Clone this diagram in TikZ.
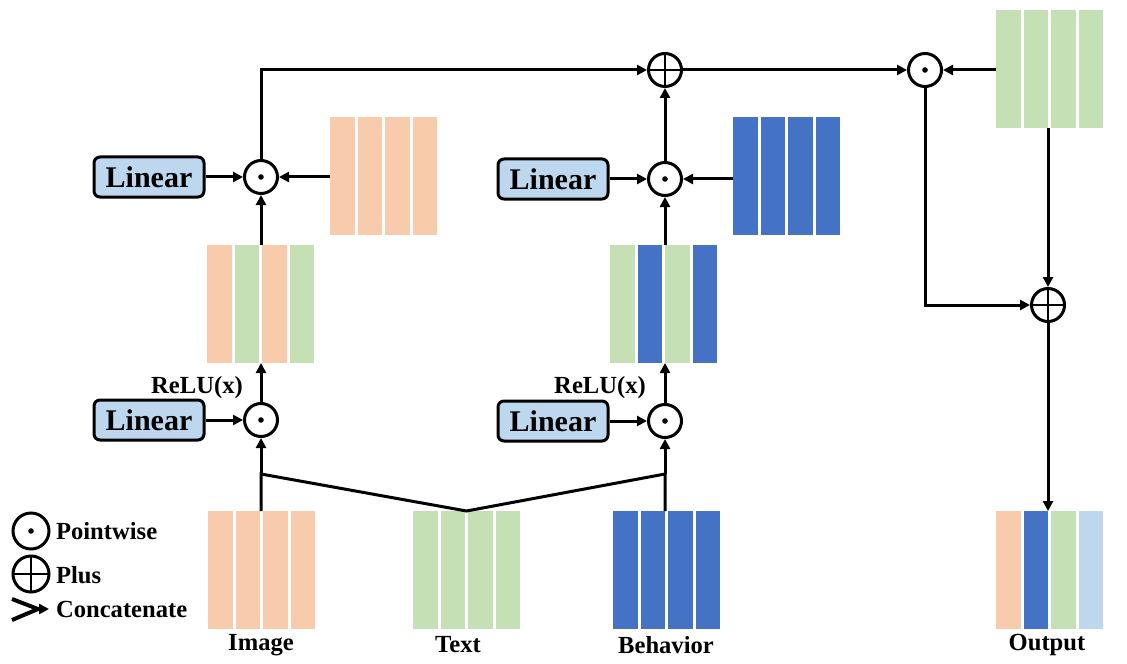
\documentclass[tikz,border=0pt]{standalone}
\usepackage{fontspec}
\setmainfont{Liberation Serif}
\usetikzlibrary{arrows.meta,fit,positioning}
\definecolor{peach}{HTML}{F8CBAD}
\definecolor{sage}{HTML}{C5E0B4}
\definecolor{royal}{HTML}{4472C4}
\definecolor{sky}{HTML}{BDD7EE}
\tikzset{
  bar/.style={fill=#1, minimum width=12.25pt, minimum height=59pt, inner sep=0pt, outer sep=0pt},
  linbox/.style={draw, line width=1.5pt, rounded corners=3pt, fill=sky, minimum width=55pt, minimum height=20pt, inner sep=0pt, font=\fontsize{15}{18}\selectfont\bfseries},
  dotop/.style={draw, circle, line width=1.5pt, minimum size=#1, inner sep=0pt, path picture={\fill (path picture bounding box.center) circle (1.4pt);}},
  dotop/.default=16.5pt,
  plusop/.style={draw, circle, line width=1.5pt, minimum size=#1, inner sep=0pt, path picture={\draw[line width=1.2pt] (path picture bounding box.north) -- (path picture bounding box.south) (path picture bounding box.west) -- (path picture bounding box.east);}},
  plusop/.default=16.5pt,
  lbl/.style={font=\fontsize{12.3}{14}\selectfont\bfseries},
  link/.style={line width=1.5pt, -{Triangle[length=5pt,width=5pt]}},
}
\newcommand{\feat}[6]{%
  \node[bar=#3, anchor=north west] (#1a) at (#2) {};
  \node[bar=#4, right=1.5pt of #1a] (#1b) {};
  \node[bar=#5, right=1.5pt of #1b] (#1c) {};
  \node[bar=#6, right=1.5pt of #1c] (#1d) {};
  \node[fit=(#1a)(#1d), inner sep=0pt, outer sep=0pt] (#1) {};
}
\begin{document}
\begin{tikzpicture}[x=0.5pt,y=-0.5pt]
  \useasboundingbox (0,0) rectangle (1127,663);
  \feat{lp}{330,117}{peach}{peach}{peach}{peach}
  \feat{lm}{207,245}{peach}{sage}{peach}{sage}
  \feat{bp}{733,117}{royal}{royal}{royal}{royal}
  \feat{bm}{610,245}{sage}{royal}{sage}{royal}
  \feat{img}{208,511}{peach}{peach}{peach}{peach}
  \feat{txt}{413,511}{sage}{sage}{sage}{sage}
  \feat{beh}{613,511}{royal}{royal}{royal}{royal}
  \feat{gout}{996,10}{sage}{sage}{sage}{sage}
  \feat{out}{996,511}{peach}{royal}{sage}{sky}
  \node[dotop] (d1) at (261,177) {};
  \node[dotop] (d2) at (261,420) {};
  \node[dotop] (d3) at (665,179) {};
  \node[dotop] (d4) at (665,421) {};
  \node[dotop] (d5) at (925,70) {};
  \node[plusop] (p1) at (665,70) {};
  \node[plusop] (p2) at (1048,305) {};
  \node[linbox] (lin1) at (149,177) {Linear};
  \node[linbox] (lin2) at (149,420) {Linear};
  \node[linbox] (lin3) at (553,179) {Linear};
  \node[linbox] (lin4) at (553,421) {Linear};
  \node[lbl] (relu1) at (197,388) {ReLU(x)};
  \node[lbl] (relu2) at (600,388) {ReLU(x)};
  \node[lbl] (imgt) at (261,645) {Image};
  \node[lbl] (txtt) at (458,645) {Text};
  \node[lbl] (beht) at (666,645) {Behavior};
  \node[lbl] (outt) at (1047,645) {Output};
  \coordinate (j1) at (261,474);
  \coordinate (j2) at (665,474);
  \draw[line width=1.5pt] (d2 |- img.north) -- (j1) -- (txt.north) -- (j2) -- (d4 |- beh.north);
  \draw[link] (j1) -- (d2);
  \draw[link] (j2) -- (d4);
  \draw[link] (lin1) -- (d1);
  \draw[link] (lin2) -- (d2);
  \draw[link] (lin3) -- (d3);
  \draw[link] (lin4) -- (d4);
  \draw[link] (lp.west |- d1) -- (d1);
  \draw[link] (bp.west |- d3) -- (d3);
  \draw[link] (d2) -- (d2 |- lm.south);
  \draw[link] (d4) -- (d4 |- bm.south);
  \draw[link] (d1 |- lm.north) -- (d1);
  \draw[link] (d3 |- bm.north) -- (d3);
  \draw[link] (d1) |- (p1);
  \draw[link] (d3) -- (p1);
  \draw[link] (p1) -- (d5);
  \draw[link] (gout.west |- d5) -- (d5);
  \draw[link] (d5) |- (p2);
  \draw[link] (p2 |- gout.south) -- (p2);
  \draw[link] (p2) -- (p2 |- out.north);
  \node[dotop=18pt] (kd) at (31,531) {};
  \node[plusop=18pt] (kp) at (31,574) {};
  \node[lbl, anchor=west] (kdt) at (49,531) {Pointwise};
  \node[lbl, anchor=west] (kpt) at (49,575) {Plus};
  \node[lbl, anchor=west] (kct) at (49,609) {Concatenate};
  \coordinate (ka) at (12,599);
  \coordinate (kb) at (12,620);
  \coordinate (kc) at (38,609);
  \draw[line width=2pt] (ka) -- (kc) -- (kb);
  \draw[link] (kc) -- (kct.west);
\end{tikzpicture}
\end{document}
